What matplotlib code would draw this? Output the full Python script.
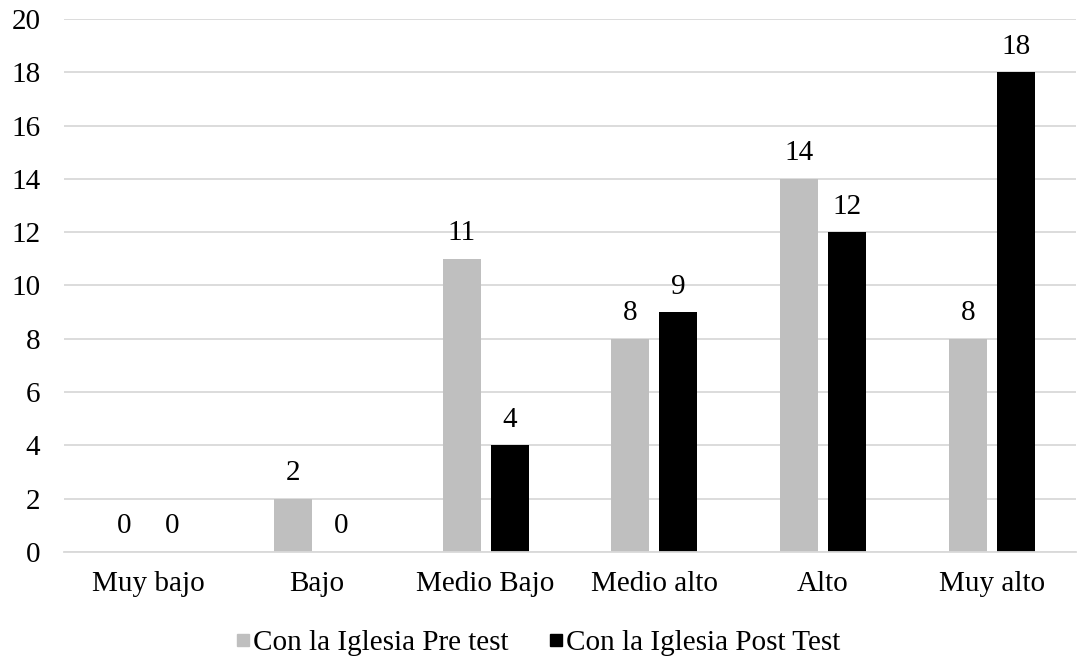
import matplotlib
matplotlib.use("Agg")
import matplotlib.pyplot as plt
from matplotlib.lines import Line2D
import numpy as np

categories = ["Muy bajo", "Bajo", "Medio Bajo", "Medio alto", "Alto", "Muy alto"]
pre_test = [0, 2, 11, 8, 14, 8]
post_test = [0, 0, 4, 9, 12, 18]
series_names = ["Con la Iglesia Pre test", "Con la Iglesia Post Test"]
series_colors = ["#BFBFBF", "#000000"]
yticks = [0, 2, 4, 6, 8, 10, 12, 14, 16, 18, 20]

plt.rcParams['font.family'] = ['Liberation Serif', 'DejaVu Serif']
FS = 21

fig = plt.figure(figsize=(10.77, 6.64), dpi=100)
ax = fig.add_axes([0.0594, 0.1687, 0.9397, 0.8027])

x = np.arange(len(categories))
w = 0.225
off = 0.142
b1 = ax.bar(x - off, pre_test, w, color=series_colors[0], label=series_names[0], zorder=3)
b2 = ax.bar(x + off, post_test, w, color=series_colors[1], label=series_names[1], zorder=3)

for rects, vals in ((b1, pre_test), (b2, post_test)):
    for r, v in zip(rects, vals):
        ax.annotate(str(v), (r.get_x() + r.get_width() / 2, v), xytext=(0, 9),
                    textcoords="offset points", ha="center", va="bottom", fontsize=FS)

ax.set_xlim(-0.5, len(categories) - 0.5)
ax.set_ylim(0, 20)
ax.set_yticks(yticks)
ax.set_xticks(x)
ax.set_xticklabels(categories)
ax.tick_params(axis="both", labelsize=FS, length=0)
ax.tick_params(axis="x", pad=14)
ax.tick_params(axis="y", pad=17)
ax.grid(axis="y", color="#D9D9D9", linewidth=1.3, zorder=0)
for s in ("top", "right", "left"):
    ax.spines[s].set_visible(False)
ax.spines["bottom"].set_color("#D9D9D9")
ax.spines["bottom"].set_linewidth(1.3)
ax.spines["bottom"].set_zorder(4)

handles = [Line2D([], [], linestyle="none", marker="s", markersize=8,
                  markerfacecolor=c, markeredgecolor=c) for c in series_colors]
fig.legend(handles=handles, labels=series_names, loc="center",
           bbox_to_anchor=(0.5, 0.032), bbox_transform=fig.transFigure, ncol=2,
           frameon=False, fontsize=FS, handlelength=0.45,
           handletextpad=0.12, columnspacing=1.4, borderpad=0)

fig.savefig("out.png", dpi=100)
